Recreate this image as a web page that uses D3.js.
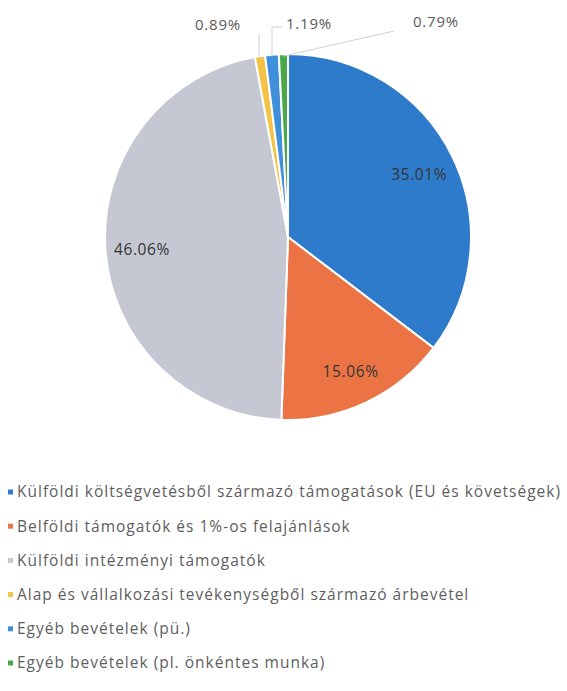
<!DOCTYPE html>
<html>
<head>
<meta charset="utf-8">
<script src="https://cdn.jsdelivr.net/npm/d3@7"></script>
<style>
  body { margin: 0; background: #fff; }
  svg { display: block; }
</style>
</head>
<body>
<div id="chart"></div>
<script>
// slices, clockwise from 12 o'clock
var categories = [
    "Külföldi költségvetésből származó támogatások (EU és követségek)",
    "Belföldi támogatók és 1%-os felajánlások",
    "Külföldi intézményi támogatók",
    "Alap és vállalkozási tevékenységből származó árbevétel",
    "Egyéb bevételek (pü.)",
    "Egyéb bevételek (pl. önkéntes munka)"
];
var shares = [35.01, 15.06, 46.06, 0.89, 1.19, 0.79];
var labels = ["35.01%", "15.06%", "46.06%", "0.89%", "1.19%", "0.79%"];
var colors = ["#2f7bcb", "#ec7444", "#c5c8d3", "#f4c244", "#3f8fdb", "#4aa84a"];

var w = 567, h = 691;
var cx = 288, cy = 237, radius = 183;

// small slices get their label outside, above the pie
var outsideLabel = {
    3: { x: 218, y: 25, lx: 259, ly: 34, kind: "vert" },
    4: { x: 309, y: 24, lx: 272, ly: 27, kind: "elbow" },
    5: { x: 436, y: 22, lx: 394, ly: 31, kind: "diag" }
};

var svg = d3.select("#chart")
    .append("svg")
    .attr("width", w)
    .attr("height", h);

var pie = d3.pie().sort(null).value(function(d) { return d; });
var arcs = pie(shares);

var arc = d3.arc().innerRadius(0).outerRadius(radius);
var labelArc = d3.arc().innerRadius(radius * 0.8).outerRadius(radius * 0.8);
var edgeArc = d3.arc().innerRadius(radius - 2).outerRadius(radius - 2);

var g = svg.append("g")
    .attr("transform", "translate(" + cx + "," + cy + ")");

g.selectAll("path.slice")
    .data(arcs)
    .enter().append("path")
    .attr("class", "slice")
    .attr("d", arc)
    .attr("fill", function(d, i) { return colors[i]; })
    .attr("stroke", "#fff")
    .attr("stroke-width", 2);

// inside labels
g.selectAll("text.inlabel")
    .data(arcs.filter(function(d, i) { return !outsideLabel[i]; }))
    .enter().append("text")
    .attr("class", "inlabel")
    .attr("transform", function(d) { return "translate(" + labelArc.centroid(d) + ")"; })
    .attr("text-anchor", "middle")
    .attr("dy", "0.5em")
    .attr("font-family", "Open Sans, sans-serif")
    .attr("font-size", 15.5)
    .attr("letter-spacing", 0.6)
    .attr("fill", "#353535")
    .text(function(d) { return labels[d.index]; });

// outside labels + leader lines
arcs.forEach(function(d, i) {
    var o = outsideLabel[i];
    if (!o) return;
    var p = edgeArc.centroid(d);
    var px = cx + p[0], py = cy + p[1];
    var pts;
    if (o.kind == "vert") pts = [[o.lx, o.ly], [o.lx, py]];
    else if (o.kind == "elbow") pts = [[o.lx + 10, o.ly], [o.lx, o.ly], [o.lx, py]];
    else pts = [[o.lx, o.ly], [px, py]];
    svg.append("path")
        .attr("d", d3.line()(pts))
        .attr("fill", "none")
        .attr("stroke", "#cdd0d8")
        .attr("stroke-width", 1);
    svg.append("text")
        .attr("x", o.x)
        .attr("y", o.y)
        .attr("text-anchor", "middle")
        .attr("dy", "0.35em")
        .attr("font-family", "Open Sans, sans-serif")
        .attr("font-size", 15)
        .attr("letter-spacing", 0.8)
        .attr("fill", "#5a5a5a")
        .text(labels[i]);
});

// legend
var legend = svg.append("g").attr("transform", "translate(8,492)");
var row = legend.selectAll("g.row")
    .data(categories)
    .enter().append("g")
    .attr("class", "row")
    .attr("transform", function(d, i) { return "translate(0," + (i * 34.2) + ")"; });

row.append("rect")
    .attr("x", 0)
    .attr("y", -2.5)
    .attr("width", 5)
    .attr("height", 5)
    .attr("fill", function(d, i) { return colors[i]; });

row.append("text")
    .attr("x", 9)
    .attr("dy", "0.35em")
    .attr("font-family", "Open Sans, sans-serif")
    .attr("font-size", 15.5)
    .attr("letter-spacing", 1.0)
    .attr("fill", "#5e5e5e")
    .text(function(d) { return d; });
</script>
</body>
</html>
